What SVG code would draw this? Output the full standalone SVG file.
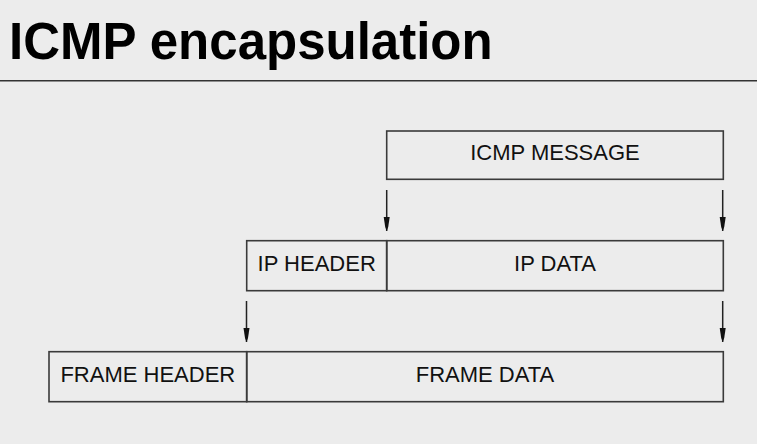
<svg xmlns="http://www.w3.org/2000/svg" width="757" height="444" viewBox="0 0 757 444">
  <style>
    .box { fill: none; stroke: #3a3a3a; stroke-width: 1.6; }
    .lbl { font-family: "Liberation Sans", Arial, sans-serif; font-size: 22px; fill: #111; text-anchor: middle; }
    .conn { stroke: #222; stroke-width: 1.5; fill: none; marker-end: url(#arr); }
  </style>
  <defs>
    <marker id="arr" markerUnits="userSpaceOnUse" markerWidth="15" markerHeight="8" refX="14" refY="3.5" orient="auto" viewBox="0 0 15 8">
      <path d="M0,0.5 L0,6.5 L10,5 L14,3.5 L10,2 Z" fill="#111"/>
    </marker>
  </defs>
  <rect x="0" y="0" width="757" height="444" fill="#ececec"/>
  <text x="9" y="59" font-family="'Liberation Sans', Arial, sans-serif" font-weight="bold" font-size="51" fill="#000">ICMP encapsulation</text>
  <line x1="0" y1="80.7" x2="757" y2="80.7" stroke="#333" stroke-width="1.5"/>

  <g id="icmp-message">
    <rect class="box" x="386.7" y="131" width="336.6" height="48.3"/>
    <text class="lbl" x="555" y="160">ICMP MESSAGE</text>
  </g>
  <g id="ip-header">
    <rect class="box" x="246.7" y="240.7" width="140" height="50"/>
    <text class="lbl" x="316.7" y="271">IP HEADER</text>
  </g>
  <g id="ip-data">
    <rect class="box" x="386.7" y="240.7" width="336.6" height="50"/>
    <text class="lbl" x="555" y="271">IP DATA</text>
  </g>
  <g id="frame-header">
    <rect class="box" x="49" y="351.7" width="197.7" height="50"/>
    <text class="lbl" x="147.8" y="381.5">FRAME HEADER</text>
  </g>
  <g id="frame-data">
    <rect class="box" x="246.7" y="351.7" width="476.6" height="50"/>
    <text class="lbl" x="485" y="381.5">FRAME DATA</text>
  </g>

  <g id="connectors">
    <line class="conn" x1="386.7" y1="190" x2="386.7" y2="231"/>
    <line class="conn" x1="722.7" y1="190" x2="722.7" y2="231"/>
    <line class="conn" x1="246.5" y1="301" x2="246.5" y2="342"/>
    <line class="conn" x1="722.7" y1="301" x2="722.7" y2="342"/>
  </g>
</svg>
